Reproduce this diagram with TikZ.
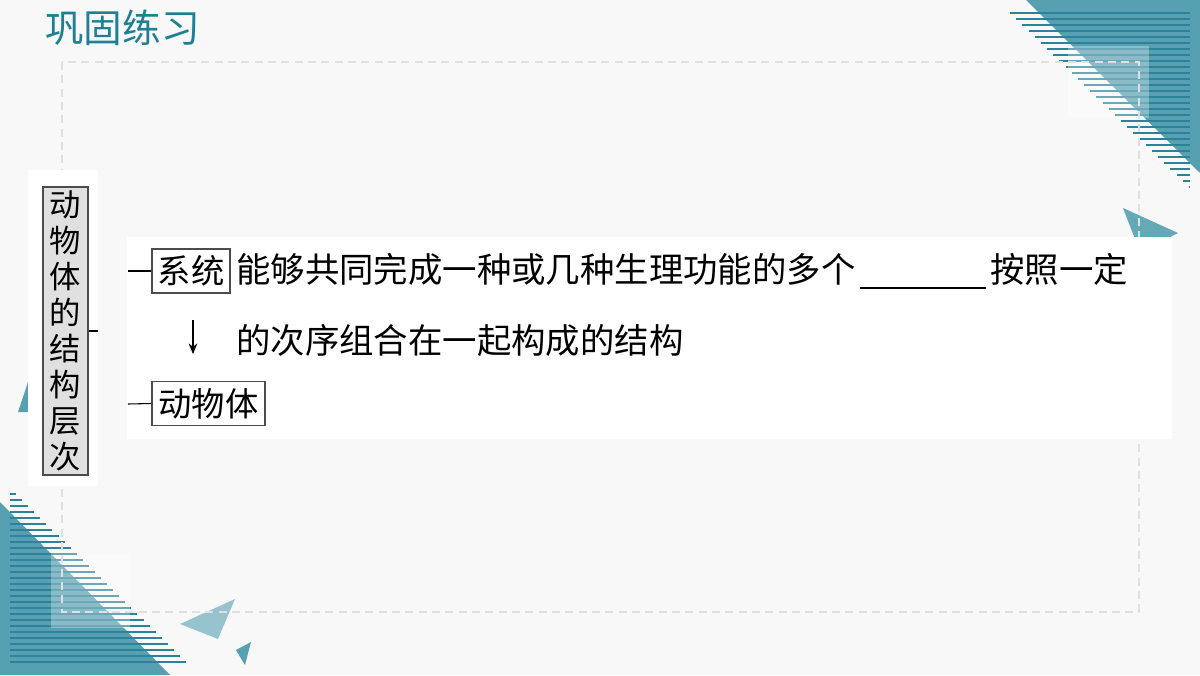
\documentclass[tikz,border=0pt]{standalone}
\usepackage{fontspec}
\newfontfamily\cjk{Noto Sans CJK SC}
\usepackage{tikz}
\usetikzlibrary{arrows.meta}
\usepackage{xcolor}
\definecolor{tealpale}{RGB}{86,160,177}
\definecolor{tealdark}{RGB}{44,130,152}
\definecolor{titleteal}{RGB}{30,128,146}
\definecolor{bggray}{RGB}{248,248,248}

\begin{document}
\begin{tikzpicture}[x=0.75pt,y=-0.75pt,
    stripe/.style={draw=tealdark, line width=1.4pt},
    levelbox/.style={draw=black!70, fill=black!12, line width=1.1pt, inner sep=0pt,
        minimum width=33.8pt, minimum height=216pt, align=center,
        font=\cjk\fontsize{23.5pt}{27pt}\selectfont},
    labelbox/.style={draw=black!70, fill=white, line width=1.1pt, inner sep=0pt,
        minimum height=33pt, font=\cjk\fontsize{25pt}{28pt}\selectfont},
    bodytext/.style={inner sep=0pt, anchor=west, font=\cjk\fontsize{25.8pt}{30pt}\selectfont},
    tick/.style={draw=black, line width=0.8pt}]
    % page
    \fill[bggray] (0,0) rectangle (1200,675);
    \useasboundingbox (0,0) rectangle (1200,675);
    % corner triangles
    \fill[tealpale] (1026,0) -- (1200,0) -- (1200,173) -- cycle;
    \fill[tealpale] (0,502) -- (0,675) -- (170,675) -- cycle;
    \foreach \y in {13,19,...,187}
        \draw[stripe] ({1010+(\y-13)*1.0286},\y) -- (1190,\y);
    \foreach \y in {488,494,...,662}
        \draw[stripe] (10,\y) -- ({10+(\y-488)*1.0114},\y);
    \fill[white,opacity=0.3] (1068,46) rectangle (1149,118);
    \fill[white,opacity=0.3] (51,553) rectangle (130,628);
    % small triangles
    \fill[tealpale,opacity=0.9] (1123,208) -- (1178,233) -- (1140,252) -- cycle;
    \fill[tealpale] (18,412) -- (34,364) -- (40,412) -- cycle;
    \fill[tealpale,opacity=0.6] (180,624) -- (235,599) -- (218,639) -- cycle;
    \fill[tealpale] (236,650) -- (251,642) -- (245,665) -- cycle;
    % frame
    \draw[black!12, line width=1.3pt, dash pattern=on 6pt off 4pt] (62,62) rectangle (1139,612);
    % panels
    \fill[white] (28,170) rectangle (98,486);
    \fill[white] (127,237) rectangle (1172,439);

    \node[titleteal, inner sep=0pt, anchor=west, font=\cjk\fontsize{29pt}{32pt}\selectfont] (title) at (45,28) {巩固练习};

    \node[levelbox] (levels) at (65.5,331) {动\\物\\体\\的\\结\\构\\层\\次};
    \node[labelbox, minimum width=58.5pt] (sys) at (191,271) {系统};
    \node[labelbox, minimum width=84.8pt] (body) at (208.5,403.5) {动物体};

    \node[bodytext] (line1) at (236,271) {能够共同完成一种或几种生理功能的多个\hspace{3.4pt}\rule[-4.6pt]{94.5pt}{0.9pt}\hspace{3.4pt}按照一定};
    \node[bodytext] (line2) at (236,340) {的次序组合在一起构成的结构};

    \coordinate (lvtick) at (98,331);
    \coordinate (systick) at (128,271);
    \coordinate (bodytick) at (128,404);
    \draw[tick] (levels.east) -- (lvtick);
    \draw[tick] (systick) -- (sys.west);
    \draw[tick] (bodytick) -- (body.west);
    \draw[line width=1pt, -{Stealth[length=8pt,width=6.5pt]}, shorten <=20pt, shorten >=20pt]
        ([xshift=1.5pt]sys.south) -- ([xshift=1.5pt]sys.south |- body.north);
\end{tikzpicture}
\end{document}
